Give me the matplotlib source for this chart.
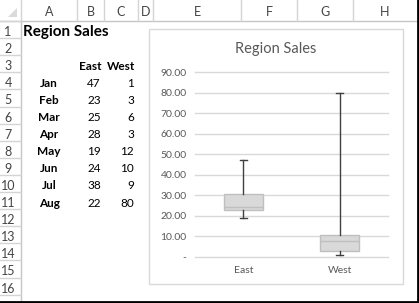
import numpy as np
import matplotlib
matplotlib.use("Agg")
import matplotlib.pyplot as plt
from matplotlib.patches import Rectangle, Polygon

plt.rcParams['font.family'] = ['Lato', 'DejaVu Sans']

# Sheet data
title = "Region Sales"
months = ["Jan", "Feb", "Mar", "Apr", "May", "Jun", "Jul", "Aug"]
east = [47, 23, 25, 28, 19, 24, 38, 22]
west = [1, 3, 6, 3, 12, 10, 9, 80]
regions = ["East", "West"]
col_letters = ["A", "B", "C", "D", "E", "F", "G", "H"]
y_ticks = [0, 10, 20, 30, 40, 50, 60, 70, 80, 90]

# Layout (pixels)
W, H = 419, 303
col_edges = [0, 21, 77, 104, 138, 153, 241, 297, 353, 417]
head_h = 21
row_h = 17.1
grid_col = "#d4d4d4"
head_txt = "#444444"

fig = plt.figure(figsize=(W / 100, H / 100), dpi=100)
sheet = fig.add_axes([0, 0, 1, 1])
sheet.set_xlim(0, W)
sheet.set_ylim(H, 0)
sheet.axis("off")

# Column header
sheet.plot([0, W], [head_h - 0.5, head_h - 0.5], color="#c6c6c6", lw=1)
for x in col_edges[1:-1]:
    sheet.plot([x, x], [0, head_h], color=grid_col, lw=1)
for i, c in enumerate(col_letters):
    xc = (col_edges[i + 1] + col_edges[i + 2]) / 2
    sheet.text(xc, head_h / 2 + 1, c, ha="center", va="center", fontsize=9, color=head_txt)
sheet.add_patch(Polygon([[17, 8], [17, 17], [8, 17]], closed=True, color="#dadada", lw=0))

# Row header
sheet.plot([col_edges[1] - 0.5, col_edges[1] - 0.5], [head_h, H], color="#c6c6c6", lw=1)
for r in range(17):
    y0 = head_h + r * row_h
    sheet.plot([0, col_edges[1]], [y0, y0], color=grid_col, lw=1)
for r in range(16):
    y0 = head_h + r * row_h
    sheet.text(8, y0 + row_h / 2 + 2.5, str(r + 1), ha="center", va="center",
               fontsize=9, color=head_txt)

def row_y(r):
    return head_h + (r - 1) * row_h + row_h / 2 + 2.5

# Cells
sheet.text(23, row_y(1), title, ha="left", va="center", fontsize=11, fontweight="bold")
sheet.text(101, row_y(3), regions[0], ha="right", va="center", fontsize=8.5, fontweight="bold")
sheet.text(135, row_y(3), regions[1], ha="right", va="center", fontsize=8.5, fontweight="bold")
for i, m in enumerate(months):
    y = row_y(4 + i)
    sheet.text(49, y, m, ha="center", va="center", fontsize=8.5, fontweight="bold")
    sheet.text(101, y, str(east[i]), ha="right", va="center", fontsize=8.5)
    sheet.text(134, y, str(west[i]), ha="right", va="center", fontsize=8.5)

# Chart area
sheet.add_patch(Rectangle((149, 29), 254, 255, facecolor="white", edgecolor="#d9d9d9", lw=1))
sheet.text(276, 49, title, ha="center", va="center", fontsize=10.5, color="#595959")

# Screenshot border
sheet.plot([418, 418], [0, H], color="black", lw=2)
sheet.plot([0, W], [302, 302], color="black", lw=2)

# Box plot
px0, px1, py0, py1 = 195, 388, 72.3, 256.7
ax = fig.add_axes([px0 / W, 1 - py1 / H, (px1 - px0) / W, (py1 - py0) / H])
ax.set_facecolor("none")
ax.boxplot([east, west], positions=[1, 2], widths=0.4, whis=(0, 100),
           patch_artist=True, showfliers=False, capwidths=0.07,
           boxprops=dict(facecolor="#d9d9d9", edgecolor="#bfbfbf", lw=1),
           medianprops=dict(color="#bfbfbf", lw=1),
           whiskerprops=dict(color="#404040", lw=1),
           capprops=dict(color="#404040", lw=1), zorder=3)
ax.set_xlim(0.5, 2.5)
ax.set_ylim(0, 90)
ax.set_yticks(y_ticks)
ax.set_yticklabels(["-" if v == 0 else f"{v:.2f}" for v in y_ticks])
ax.set_xticks([1, 2])
ax.set_xticklabels(regions)
ax.tick_params(length=0, labelsize=7.5, colors="#595959")
ax.tick_params(axis="y", pad=6)
ax.tick_params(axis="x", pad=7)
for s in ax.spines.values():
    s.set_visible(False)
ax.yaxis.grid(True, color="#d9d9d9", lw=1, zorder=0)
for gl in ax.get_ygridlines():
    gl.set_clip_on(False)
ax.set_axisbelow(True)

fig.savefig("out.png", dpi=100)
